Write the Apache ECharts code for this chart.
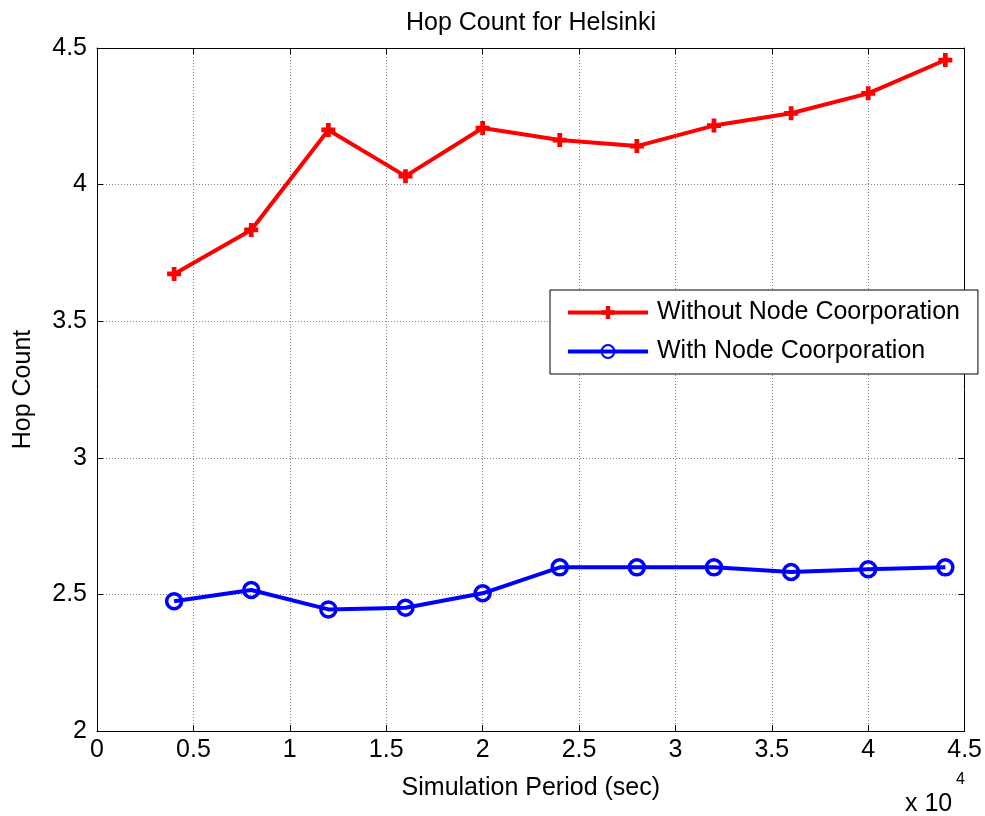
<!DOCTYPE html>
<html>
<head>
<meta charset="utf-8">
<script src="https://cdn.jsdelivr.net/npm/echarts@6/dist/echarts.min.js"></script>
<style>
  html, body { margin: 0; padding: 0; background: #fff; }
  #chart { width: 985px; height: 816px; }
</style>
</head>
<body>
<div id="chart"></div>
<script>
// Simulation periods (seconds)
const periods = [4000, 8000, 12000, 16000, 20000, 24000, 28000, 32000, 36000, 40000, 44000];
// Average hop count per period
const withoutCoop = [3.673, 3.834, 4.200, 4.031, 4.207, 4.163, 4.141, 4.216, 4.261, 4.334, 4.456];
const withCoop = [2.475, 2.516, 2.445, 2.451, 2.504, 2.599, 2.599, 2.599, 2.582, 2.592, 2.599];
const seriesNames = ['Without Node Coorporation', 'With Node Coorporation'];

const FONT = 'Liberation Sans, Arial, sans-serif';
const FS = 25;
const plusPath = 'path://M-1.7,-5 L1.7,-5 L1.7,-1.7 L5,-1.7 L5,1.7 L1.7,1.7 L1.7,5 L-1.7,5 L-1.7,1.7 L-5,1.7 L-5,-1.7 L-1.7,-1.7 Z';

const pairs = (xs, ys) => xs.map((x, i) => [x, ys[i]]);

const chart = echarts.init(document.getElementById('chart'), null, { renderer: 'canvas' });

const innerTick = { show: true, inside: true, length: 6, lineStyle: { color: '#000', width: 1 } };
const frameLine = { show: true, onZero: false, lineStyle: { color: '#000', width: 1 } };
const gridDots = { show: true, lineStyle: { color: '#888', type: [1, 2], width: 1 } };

chart.setOption({
  animation: false,
  backgroundColor: '#fff',
  title: {
    text: 'Hop Count for Helsinki',
    left: 526,
    textAlign: 'center',
    top: 6,
    textStyle: { fontFamily: FONT, fontSize: FS, fontWeight: 'normal', color: '#000' }
  },
  grid: { left: 97, right: 20, top: 48, bottom: 85, show: false },
  legend: {
    left: 550,
    top: 290,
    orient: 'vertical',
    data: seriesNames,
    itemWidth: 80,
    itemHeight: 16,
    itemGap: 14,
    padding: [10, 18, 10, 16],
    backgroundColor: '#fff',
    borderColor: '#000',
    borderWidth: 1,
    borderRadius: 0,
    lineStyle: { width: 4 },
    textStyle: { fontFamily: FONT, fontSize: FS, color: '#000', padding: [0, 0, 0, 4] }
  },
  xAxis: [{
    type: 'value',
    min: 0, max: 45000, interval: 5000,
    name: 'Simulation Period (sec)',
    nameLocation: 'middle',
    nameGap: 45,
    nameTextStyle: { fontFamily: FONT, fontSize: FS, color: '#000' },
    axisLine: frameLine,
    axisTick: innerTick,
    axisLabel: {
      fontFamily: FONT, fontSize: FS, color: '#000', margin: 7,
      formatter: v => String(v / 10000)
    },
    splitLine: gridDots
  }, {
    type: 'value', position: 'top',
    min: 0, max: 45000, interval: 5000,
    axisLine: frameLine,
    axisTick: innerTick,
    axisLabel: { show: false },
    splitLine: { show: false }
  }],
  yAxis: [{
    type: 'value',
    min: 2, max: 4.5, interval: 0.5,
    name: 'Hop Count',
    nameLocation: 'middle',
    nameGap: 61,
    nameRotate: 90,
    nameTextStyle: { fontFamily: FONT, fontSize: FS, color: '#000' },
    axisLine: frameLine,
    axisTick: innerTick,
    axisLabel: { fontFamily: FONT, fontSize: FS, color: '#000', margin: 10 },
    splitLine: gridDots
  }, {
    type: 'value', position: 'right',
    min: 2, max: 4.5, interval: 0.5,
    axisLine: frameLine,
    axisTick: innerTick,
    axisLabel: { show: false },
    splitLine: { show: false }
  }],
  graphic: [{
    type: 'text',
    left: 905,
    top: 792,
    style: { text: 'x 10', fontFamily: FONT, fontSize: FS, fill: '#000' }
  }, {
    type: 'text',
    left: 956,
    top: 772,
    style: { text: '4', fontFamily: FONT, fontSize: 16, fill: '#000' }
  }],
  series: [{
    name: seriesNames[0],
    type: 'line',
    xAxisIndex: 0, yAxisIndex: 0,
    data: pairs(periods, withoutCoop),
    symbol: plusPath,
    symbolSize: 14,
    itemStyle: { color: '#ff0000' },
    lineStyle: { color: '#ff0000', width: 4 },
    z: 3
  }, {
    name: seriesNames[1],
    type: 'line',
    xAxisIndex: 0, yAxisIndex: 0,
    data: pairs(periods, withCoop),
    symbol: 'circle',
    symbolSize: 15,
    itemStyle: { color: 'rgba(0,0,0,0)', borderColor: '#0000ff', borderWidth: 3.5 },
    lineStyle: { color: '#0000ff', width: 4 },
    z: 3
  }]
});
</script>
</body>
</html>
